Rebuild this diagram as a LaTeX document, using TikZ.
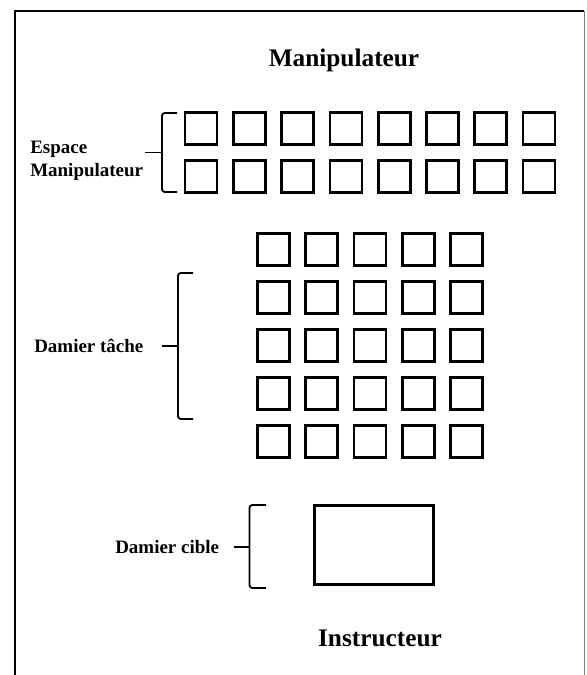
\documentclass[tikz,border=0pt]{standalone}
\usepackage{fontspec}
\setmainfont{Liberation Serif}
\usetikzlibrary{calc}
\tikzset{
  case/.style = {draw, line width=1.9pt, minimum size=0.8cm, inner sep=0pt},
  titre/.style = {font=\fontsize{18}{21}\selectfont\bfseries},
  etiq/.style = {font=\fontsize{13.5}{16.3}\selectfont\bfseries, align=left, inner sep=0pt},
  accolade/.style = {line width=1.3pt, rounded corners=2pt}
}

\begin{document}
\begin{tikzpicture}
  \useasboundingbox (0,0) rectangle (14.65,16.875);
  % cadre
  \draw[line width=2pt] (0.375,0) -- (0.375,16.6) -- (14.6,16.6);
  \draw[gray, line width=0.6pt] (14.6,16.6) -- (14.6,0);

  \node[titre, anchor=base] (manip) at (8.6,15.2) {Manipulateur};

  % espace manipulateur
  \foreach \c in {0,...,7}{
    \node[case] (esp-1-\c) at ({5.025+1.2075*\c},13.6625) {};
    \node[case] (esp-2-\c) at ({5.025+1.2075*\c},12.4625) {};
  }
  \draw[accolade] (4.425,14.05) -- (4.05,14.05) -- (4.05,12.075) -- (4.425,12.075);
  \draw[accolade] (3.625,13.0625) -- (4.05,13.0625);
  \node[etiq, anchor=west] (espace) at (0.75,12.86) {Espace\\Manipulateur};

  % damier tache
  \foreach \r in {0,...,4}
    \foreach \c in {0,...,4}
      \node[case] (dam-\r-\c) at ({6.835+1.2075*\c},{10.645-1.2*\r}) {};
  \draw[accolade] (4.825,10.05) -- (4.45,10.05) -- (4.45,6.4) -- (4.825,6.4);
  \draw[accolade] (4.05,8.225) -- (4.45,8.225);
  \node[etiq, anchor=west] (tache) at (0.85,8.225) {Damier tâche};

  % damier cible
  \node[draw, line width=1.9pt, minimum width=2.975cm, minimum height=1.965cm] (cible) at (9.35,3.25) {};
  \draw[accolade] (6.65,4.25) -- (6.2375,4.25) -- (6.2375,2.175) -- (6.65,2.175);
  \draw[accolade] (5.8375,3.2) -- (6.2375,3.2);
  \node[etiq, anchor=west] (ciblelab) at (2.875,3.2) {Damier cible};

  \node[titre, anchor=base] (instr) at (9.5,0.7075) {Instructeur};
\end{tikzpicture}
\end{document}
